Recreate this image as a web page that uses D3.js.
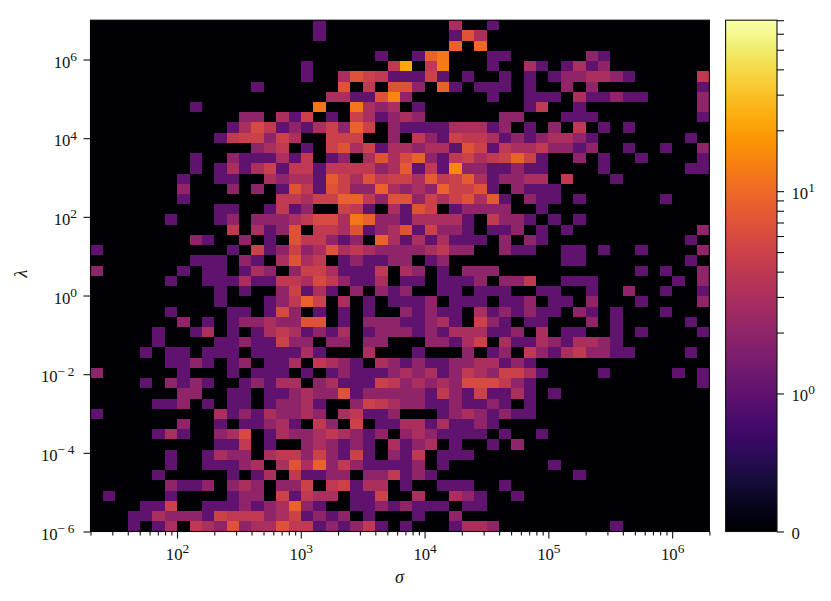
<!DOCTYPE html>
<html>
<head>
<meta charset="utf-8">
<script src="https://cdn.jsdelivr.net/npm/d3@7"></script>
<style>
html,body{margin:0;padding:0;background:#fff;}
svg{display:block;}
text{font-family:"Liberation Serif","DejaVu Serif",serif;fill:#111;}
</style>
</head>
<body>
<svg id="chart" width="831" height="601"></svg>
<script>
// Counts per cell, top row (largest lambda) first. Each character is a base-36 count; spaces only group columns by five.
const rowCounts = [
"00000 00000 00000 00010 00000 00003 00100 00000 00000 00000",
"00000 00000 00000 00010 00000 00001 73000 00000 00000 00000",
"00000 00000 00000 00000 00000 00009 0a000 00000 00000 00000",
"00000 00000 00000 00000 00010 019c0 00110 00000 21000 00000",
"00000 00000 00000 00100 00004 m04d0 00100 31013 12000 00000",
"00000 00000 00000 00100 37541 11510 10010 10122 33210 00004",
"00000 00000 00010 00000 70407 72091 01110 10020 20000 00001",
"00000 00000 00000 00003 3117f 20000 00100 11103 11211 00002",
"00000 00010 00000 000c0 0c323 01000 00000 14001 00000 00002",
"00000 00000 00220 31501 05312 32000 00022 00011 10000 00001",
"00000 00000 01364 12135 29502 11113 33120 10204 01010 00000",
"00000 00000 14552 53005 55002 04215 44312 12332 10000 00010",
"00000 00000 00023 40105 73513 32331 75143 34221 20010 01002",
"00000 00010 02111 31401 20373 69214 53459 51002 01001 00001",
"00000 00010 13135 14414 44423 8141f 22112 11000 01000 00011",
"00000 00100 11003 23318 53745 53845 83122 33040 00100 00000",
"00000 00200 02020 17417 52293 23295 57102 11100 00000 00000",
"00000 00100 00000 44355 99427 72535 73810 21101 00000 01000",
"00000 00000 11001 41200 54103 17501 22220 01000 00000 00000",
"00000 01000 12022 23466 3c922 13333 10422 10101 00000 00000",
"00000 00000 04031 27044 37123 71522 10112 01010 00000 00002",
"00000 00021 00201 07442 12093 13131 11020 21000 00000 00010",
"10000 00000 01051 25237 34322 22342 20021 10011 01001 00002",
"00000 00011 10210 37340 12112 20120 00000 00011 00000 00010",
"20000 00101 10132 02553 11140 32010 22200 00000 00001 01002",
"00000 01001 11311 44364 21130 11011 12022 40011 10000 00102",
"00000 00000 10100 25131 02021 20011 01110 01100 10020 01001",
"00000 00000 10001 24950 30101 11201 11011 20110 20001 00002",
"00000 01000 01101 62010 10100 21211 03121 21102 10100 01000",
"00000 00201 01223 22770 10222 11231 05210 11000 20100 00010",
"00000 10013 01013 43121 30122 21213 33112 03011 00101 00001",
"00000 10000 11211 52202 20220 00221 35031 13213 32100 00000",
"00001 01101 11011 11310 00300 01000 20120 42134 22110 00010",
"00000 01121 01201 13043 21032 12112 23312 10000 00000 00000",
"20000 00100 01011 10101 21112 32312 43255 31000 01000 00101",
"00001 02121 00121 33023 11154 23232 66642 10000 00000 00001",
"00000 00220 01101 12322 71222 22142 15113 10100 00000 00000",
"00000 11201 01101 22310 02543 22112 11210 10000 00000 00000",
"10000 00000 31213 22320 34112 00012 32121 10000 00000 00000",
"00000 00200 10112 31042 05011 33131 12100 00000 00000 00000",
"00000 13100 23601 32234 32120 23211 11010 01000 00000 00000",
"00000 00000 11401 00232 12103 12301 00102 00000 00000 00000",
"00000 01001 32203 44252 15102 14011 10000 00000 00000 00000",
"00000 01001 11230 37392 42111 12010 00000 00100 00000 00000",
"00000 10000 01013 04112 20224 12100 00000 00001 00000 00000",
"00000 02112 02320 22504 51330 10011 10010 00000 00000 00000",
"01000 01000 01220 51433 01150 03003 21001 00000 00000 00000",
"00001 15001 11212 39210 01121 21110 11000 00000 00000 00000",
"00011 32221 54442 35121 20100 01002 00000 00000 00000 00000",
"00010 13043 27233 74412 12410 10001 33200 00000 00100 00000"
];
const sigmaExtent = [20, 2e6];
const lambdaExtent = [1e-6, 1e7];
const binCount = 50;
const sigmaMajor = [1e2, 1e3, 1e4, 1e5, 1e6];
const lambdaMajor = [1e-6, 1e-4, 1e-2, 1e0, 1e2, 1e4, 1e6];
const barMajor = [0, 1, 10];
const barMinor = [2,3,4,5,6,7,8,9,20,30,40,50,60,70];
const countMax = 70;

const P = {l:90.5, r:709.4, t:20.2, b:531.5};
const B = {l:725.6, r:777, t:20.2, b:531.5};
const svg = d3.select("#chart");

const x = d3.scaleLog().domain(sigmaExtent).range([P.l, P.r]);
const y = d3.scaleLog().domain(lambdaExtent).range([P.b, P.t]);

// Edges of the logarithmic bins, as fractions of the axes
const frac = d3.scaleLinear().domain([0, binCount]);
const xEdge = i => frac.copy().range([P.l, P.r])(i);
const yEdge = i => frac.copy().range([P.t, P.b])(i);

// Symmetric-log colour norm: linear on 0..1, logarithmic on 1..70
const SPLIT = 0.27;
const normLin = d3.scaleLinear().domain([0, 1]).range([0, SPLIT]);
const normLog = d3.scaleLog().domain([1, countMax]).range([SPLIT, 1]);
const norm = v => v <= 1 ? normLin(v) : normLog(v);
const colour = v => d3.interpolateInferno(norm(v));

const cells = [];
rowCounts.forEach((s, r) => {
  s.replace(/ /g, "").split("").forEach((ch, c) => {
    cells.push({r, c, v: parseInt(ch, 36)});
  });
});

svg.append("rect").attr("x", P.l).attr("y", P.t)
  .attr("width", P.r - P.l).attr("height", P.b - P.t).attr("fill", colour(0));

svg.append("g").attr("shape-rendering", "crispEdges")
  .selectAll("rect").data(cells.filter(d => d.v > 0)).join("rect")
  .attr("x", d => xEdge(d.c)).attr("y", d => yEdge(d.r))
  .attr("width", d => xEdge(d.c + 1) - xEdge(d.c))
  .attr("height", d => yEdge(d.r + 1) - yEdge(d.r))
  .attr("fill", d => colour(d.v));

svg.append("rect").attr("x", P.l).attr("y", P.t)
  .attr("width", P.r - P.l).attr("height", P.b - P.t)
  .attr("fill", "none").attr("stroke", "#000").attr("stroke-width", 1.1);

const FS = 16.7;
function powerLabel(sel, exp) {
  sel.text(null);
  sel.append("tspan").text("10");
  const sup = sel.append("tspan").attr("font-size", FS * 0.8).attr("dy", -6.5)
    .text(String(exp).replace("-", "\u2212"));
  if (exp < 0) sup.attr("letter-spacing", 2.6);
}

function styleAxis(g) {
  g.select(".domain").remove();
  g.selectAll(".tick line").attr("stroke", "#111").attr("stroke-width", 1.1);
}

// x axis
const xMinor = [];
d3.range(1, 7).forEach(e => d3.range(1, 10).forEach(m => {
  const v = m * 10 ** e;
  if (v >= sigmaExtent[0] && v <= sigmaExtent[1] && m !== 1) xMinor.push(v);
}));
svg.append("g").attr("transform", `translate(0,${P.b})`)
  .call(d3.axisBottom(x).tickValues(xMinor).tickSize(4).tickFormat(""))
  .call(styleAxis);
const gx = svg.append("g").attr("transform", `translate(0,${P.b})`)
  .call(d3.axisBottom(x).tickValues(sigmaMajor).tickSize(7).tickFormat(""))
  .call(styleAxis);
gx.selectAll(".tick").append("text")
  .attr("y", 28).attr("text-anchor", "middle").attr("font-size", FS)
  .each(function(d){ powerLabel(d3.select(this), Math.round(Math.log10(d))); });

// y axis
const gy = svg.append("g").attr("transform", `translate(${P.l},0)`)
  .call(d3.axisLeft(y).tickValues(lambdaMajor).tickSize(7).tickFormat(""))
  .call(styleAxis);
gy.selectAll(".tick").append("text")
  .attr("x", -13.5).attr("y", 7.6).attr("text-anchor", "end").attr("font-size", FS)
  .each(function(d){ powerLabel(d3.select(this), Math.round(Math.log10(d))); });

// axis titles
svg.append("text").attr("x", 399.5).attr("y", 583).attr("text-anchor", "middle")
  .attr("font-size", 18).attr("font-style", "italic").text("\u03C3");
svg.append("text").attr("transform", "translate(27,273.5) rotate(-90)")
  .attr("text-anchor", "middle").attr("font-size", 18).attr("font-style", "italic").text("\u03BB");

// colour bar
const barY = d3.scaleLinear().domain([0, 1]).range([B.b, B.t]);
const steps = d3.range(256);
svg.append("g").attr("shape-rendering", "crispEdges")
  .selectAll("rect").data(steps).join("rect")
  .attr("x", B.l).attr("width", B.r - B.l)
  .attr("y", i => barY((i + 1) / 256))
  .attr("height", i => barY(i / 256) - barY((i + 1) / 256) + 0.6)
  .attr("fill", i => d3.interpolateInferno((i + 0.5) / 256));
svg.append("rect").attr("x", B.l).attr("y", B.t)
  .attr("width", B.r - B.l).attr("height", B.b - B.t)
  .attr("fill", "none").attr("stroke", "#111").attr("stroke-width", 1.1);

svg.append("g").attr("transform", `translate(${B.r},0)`)
  .call(d3.axisRight(barY).tickValues(barMinor.map(norm)).tickSize(7).tickFormat(""))
  .call(styleAxis);
const gb = svg.append("g").attr("transform", `translate(${B.r},0)`)
  .call(d3.axisRight(barY).tickValues(barMajor.map(norm)).tickSize(7).tickFormat(""))
  .call(styleAxis);
gb.selectAll(".tick").append("text")
  .attr("x", 14.5).attr("y", 7).attr("text-anchor", "start").attr("font-size", FS)
  .each(function(d, i){
    if (barMajor[i] === 0) d3.select(this).text("0");
    else powerLabel(d3.select(this), Math.round(Math.log10(barMajor[i])));
  });
</script>
</body>
</html>
